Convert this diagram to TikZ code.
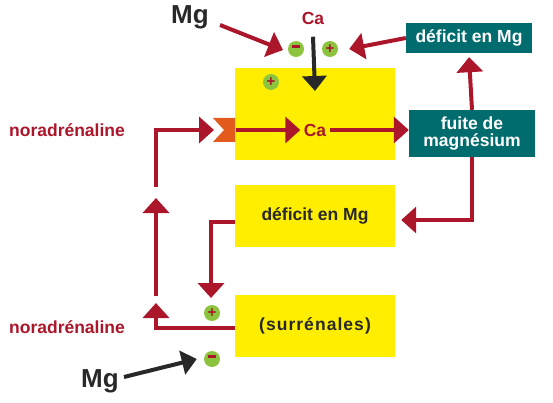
\documentclass[tikz,border=0pt]{standalone}
\usepackage{fontspec}
\setmainfont{Liberation Sans}
\usepackage{tikz}
\usetikzlibrary{arrows.meta}

\definecolor{rouge}{RGB}{172,22,42}
\definecolor{jaune}{RGB}{255,238,0}
\definecolor{sarcelle}{RGB}{0,108,110}
\definecolor{orangeb}{RGB}{226,90,28}
\definecolor{vert}{RGB}{140,196,63}
\definecolor{encre}{RGB}{40,40,40}

\newcommand\tx{\fontsize{17.5}{17.5}\selectfont}
\newcommand\grand{\fontsize{26}{26}\selectfont}

\begin{document}
\begin{tikzpicture}[x=1pt,y=-1pt,font=\bfseries,
	boite/.style={fill=jaune,minimum width=160pt,inner sep=0pt,text=encre,font=\bfseries\tx},
	bleu/.style={fill=sarcelle,minimum width=126pt,inner sep=0pt,text=white,align=center,font=\bfseries\tx},
	fleche/.style={line width=4pt,rouge,-{Triangle[width=26pt,length=15pt]}},
	noire/.style={line width=4pt,encre,-{Triangle[width=24pt,length=15pt]}},
	signe/.style={circle,fill=vert,minimum size=16pt,inner sep=0pt,text=rouge,font=\bfseries\fontsize{15}{15}\selectfont}]

	\useasboundingbox (0,0) rectangle (553,403);

	% boites
	\node [boite,minimum height=92pt] (cell) at (315,114) {};
	\node [boite,minimum height=62pt] (def) at (315,216) {déficit en Mg};
	\node [boite,minimum height=62pt] (surr) at (315,326) {\addfontfeatures{LetterSpace=6}(surrénales)};
	\node [bleu,minimum height=30pt] (defb) at (469,38) {déficit en Mg};
	\node [bleu,minimum height=47pt] (fuite) at (472,133.5) {fuite de\\magnésium};

	% recepteur
	\fill [orangeb] (213,118) -- (235,118) -- (235,142) -- (213,142) -- (224,130) -- cycle;
	\coordinate (recep) at (236,130);

	% textes
	\node [text=rouge,font=\bfseries\tx] (caH) at (313,18) {Ca};
	\node [text=rouge,font=\bfseries\tx] (caM) at (315,130) {Ca};
	\node [text=encre,font=\bfseries\grand] (mgH) at (190,17) {Mg};
	\node [text=encre,font=\bfseries\grand] (mgB) at (100,381) {Mg};
	\node [text=rouge,font=\bfseries\tx] (norH) at (67,130) {noradrénaline};
	\node [text=rouge,font=\bfseries\tx] (norB) at (67,327) {noradrénaline};

	% signes
	\foreach \p/\n in {(296,49)/mH, (212,359)/mB} {
		\node [signe] (\n) at \p {\textcolor{rouge}{\rule[4.6pt]{8pt}{3pt}}};
	}
	\foreach \p/\n in {(330,49)/pH, (271,82)/pC, (212,313)/pB} {
		\node [signe] (\n) at \p {+};
	}

	% coudes
	\coordinate (g1) at (156,187);
	\coordinate (g2) at (156,296);
	\coordinate (g3) at (156,198);
	\coordinate (g4) at (156,303);
	\coordinate (d1) at (211,298);

	% fleches du haut
	\draw [fleche] (220,25) -- (283,50);
	\draw [fleche] (defb.west) -- ([xshift=11pt]pH.east);
	\draw [noire] ([yshift=-9pt]caH.south) -- (315,91);

	% cellule
	\draw [fleche] (recep) -- (caM.west);
	\draw [fleche] (caM.east) -- (fuite.west |- caM);
	\draw [fleche] (fuite.north) -- ([yshift=-4pt]defb.south);
	\draw [fleche] (fuite.south) |- ([xshift=6pt,yshift=-4pt]def.east);

	% boucle gauche
	\draw [fleche] ([yshift=-6pt]def.west) -| (d1);
	\draw [fleche] ([yshift=-2pt]surr.west) -| (g4);
	\draw [fleche] (g2) -- (g3);
	\draw [fleche,shorten >=22pt] (g1) |- (recep);

	% Mg du bas
	\draw [noire] (124,377) -- ([xshift=-7pt]mB.west);
\end{tikzpicture}
\end{document}
